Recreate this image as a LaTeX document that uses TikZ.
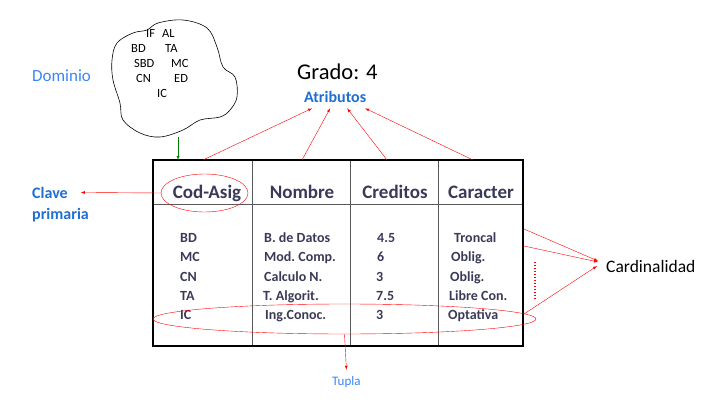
\documentclass[tikz,border=0pt]{standalone}
\usepackage{fontspec}
\setmainfont{Carlito}
\usepackage{tikz}
\usetikzlibrary{arrows,shapes.geometric}
\usepackage{xcolor}
\definecolor{hdr}{HTML}{3A3A58}
\definecolor{lblue}{HTML}{1F6FD0}
\definecolor{dblue}{HTML}{3A86F5}
\frenchspacing

\begin{document}
\begin{tikzpicture}[x=1pt,y=-1pt,
        txt/.style={inner sep=0,anchor=base west},
        head/.style={inner sep=0,anchor=base,font=\fontsize{19}{21}\selectfont\bfseries,color=hdr},
        cell/.style={inner sep=0,anchor=base west,font=\fontsize{14}{16}\selectfont\bfseries,color=hdr},
        dom/.style={inner sep=0,anchor=base west,font=\fontsize{12.5}{14}\selectfont},
        redarr/.style={->,>=latex,red,thin}]
        \useasboundingbox (0,0) rectangle (701,409);

        % dominio
        \draw[semithick] plot[smooth cycle,tension=0.6] coordinates {(158,23) (183,20) (207,28) (217,47) (223,67) (235,77) (237,97) (230,110) (220,117) (200,120) (183,130) (160,137) (140,133) (123,120) (120,103) (113,80) (112,60) (117,43) (133,33) (147,30)};
        \node [dom] (if) at (146,38) {IF};
        \node [dom] (al) at (162,38) {AL};
        \node [dom] (bd0) at (131,53) {BD};
        \node [dom] (ta0) at (165,53) {TA};
        \node [dom] (sbd) at (134,68) {SBD};
        \node [dom] (mc0) at (171,68) {MC};
        \node [dom] (cn0) at (136,83) {CN};
        \node [dom] (ed) at (174,83) {ED};
        \node [dom] (ic0) at (157,98) {IC};
        \node [txt,font=\fontsize{17}{19}\selectfont,color=dblue] (dominio) at (32,82) {Dominio};
        \coordinate (cloud) at (178,137);

        % grado y atributos
        \node [txt,font=\fontsize{22.5}{26}\selectfont] (grado) at (297,80) {Grado:\hspace{0.3em}4};
        \node [txt,font=\fontsize{16}{18}\selectfont\bfseries,color=lblue] (atr) at (304,103) {Atributos};

        % tabla
        \draw[gray!70!black,thick] (153,204) -- (523,204);
        \draw[gray!70!black,thick] (252,160) -- (252,346);
        \draw[gray!70!black,thick] (350,160) -- (350,346);
        \draw[gray!70!black,thick] (438,160) -- (438,346);
        \draw[line width=2pt] (153,160) rectangle (523,346);

        \node [head] (h1) at (207,198) {Cod-Asig};
        \node [head] (h2) at (302,198) {Nombre};
        \node [head] (h3) at (395,198) {Creditos};
        \node [head] (h4) at (481,198) {Caracter};

        \node [cell] (bd) at (180,242) {BD};
        \node [cell] (mc) at (180,261.5) {MC};
        \node [cell] (cn) at (180,281) {CN};
        \node [cell] (ta) at (180,300) {TA};
        \node [cell] (ic) at (180,319) {IC};
        \node [cell] (n1) at (264,242) {B. de Datos};
        \node [cell] (n2) at (264,261.5) {Mod. Comp.};
        \node [cell] (n3) at (264,281) {Calculo N.};
        \node [cell] (n4) at (263,300) {T. Algorit.};
        \node [cell] (n5) at (265,319) {Ing.Conoc.};
        \node [cell] (c1) at (377,242) {4.5};
        \node [cell] (c2) at (377,261.5) {6};
        \node [cell] (c3) at (376,281) {3};
        \node [cell] (c4) at (376,300) {7.5};
        \node [cell] (c5) at (376,319) {3};
        \node [cell] (t1) at (454,242) {Troncal};
        \node [cell] (t2) at (451,261.5) {Oblig.};
        \node [cell] (t3) at (450,281) {Oblig.};
        \node [cell] (t4) at (449,300) {Libre Con.};
        \node [cell] (t5) at (448,319) {Optativa};

        % clave, tupla, cardinalidad
        \node [ellipse,draw=red,thin,minimum width=87pt,minimum height=38pt] (key) at (204.5,193) {};
        \node [ellipse,draw=red,thin,minimum width=383pt,minimum height=30pt,inner sep=0] (tup) at (344.5,319) {};
        \node [txt,font=\fontsize{16}{18}\selectfont\bfseries,color=lblue] (clave) at (32,198) {Clave};
        \node [txt,font=\fontsize{16}{18}\selectfont\bfseries,color=lblue] (prim) at (32,219) {primaria};
        \node [txt,font=\fontsize{13}{15}\selectfont,color=dblue] (tupla) at (332,385) {Tupla};
        \node [txt,font=\fontsize{17.5}{20}\selectfont] (card) at (606,272) {Cardinalidad};
        \draw[red,line width=1.2pt,dash pattern=on 1.2pt off 1.8pt] (535,262) -- (535,299);

        \coordinate (a1) at (203,160);
        \coordinate (a2) at (302,160);
        \coordinate (a3) at (387,160);
        \coordinate (a4) at (473,160);
        \coordinate (r1) at (524,229);
        \coordinate (r2) at (524,246);
        \coordinate (r3) at (524,314);

        \draw[->,>=latex,green!50!black] (cloud) to (178,160);
        \draw[redarr] (a1) to ([xshift=-23pt,yshift=-5pt]atr.south);
        \draw[redarr] (a2) to ([xshift=-5pt,yshift=-5pt]atr.south);
        \draw[redarr] (a3) to ([xshift=12pt,yshift=-5pt]atr.south);
        \draw[redarr] (a4) to ([xshift=30pt,yshift=-5pt]atr.south);
        \draw[redarr] (key.west) to ([xshift=13pt]clave.east);
        \draw[redarr] (tup.south) to ([yshift=6pt]tupla.north);
        \draw[redarr] (r1) to ([xshift=-8pt,yshift=5pt]card.west);
        \draw[redarr] (r2) to ([xshift=-8pt,yshift=4pt]card.west);
        \draw[redarr] (r3) to ([xshift=-9pt,yshift=0pt]card.west);
\end{tikzpicture}
\end{document}
